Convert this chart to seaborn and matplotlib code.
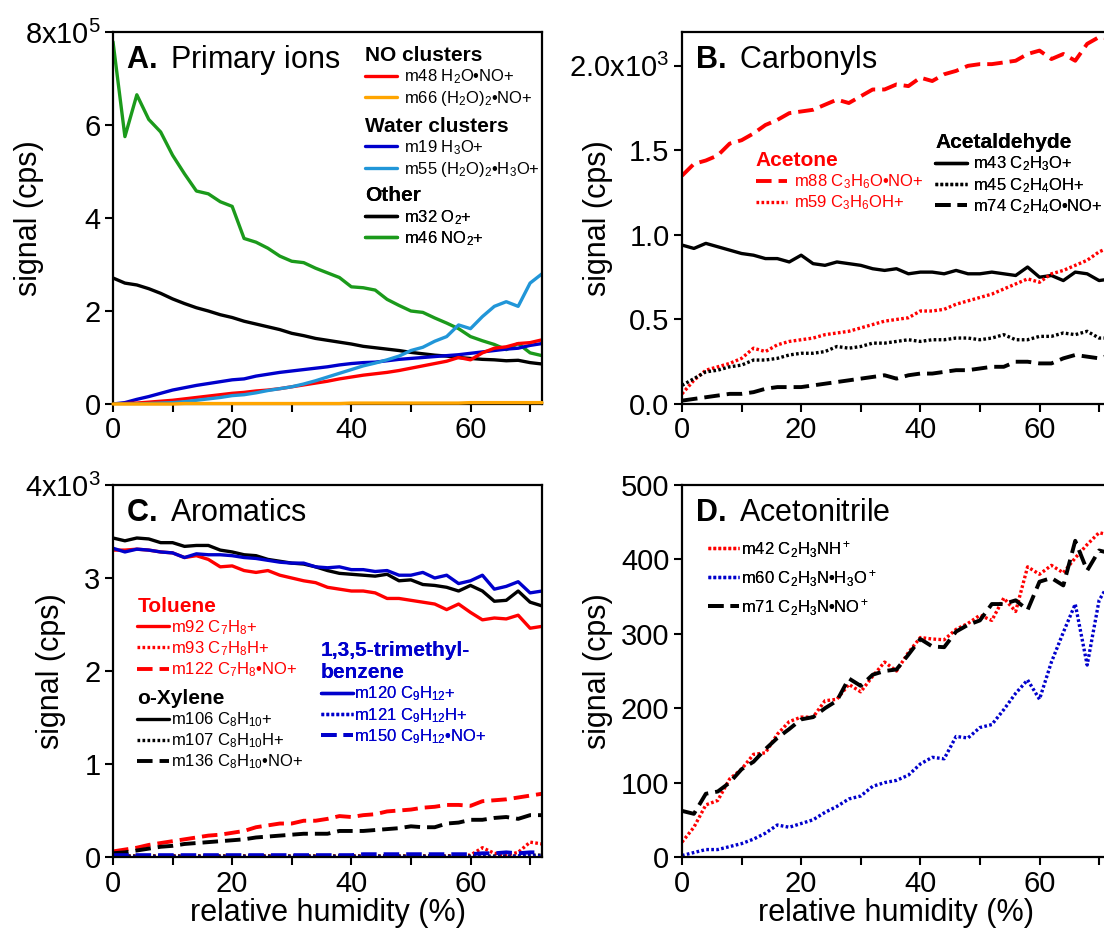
import matplotlib
matplotlib.use("Agg")
import matplotlib.pyplot as plt
import seaborn as sns

# relative humidity grid (%), shared by every panel
rh = list(range(0, 74, 2))

# ── A. Primary ions (signal in units of 1e5 cps) ─────────────────────────────
a_m48 = [0.0, 0.01, 0.02, 0.04, 0.06, 0.08, 0.11, 0.14, 0.17, 0.2,
         0.23, 0.25, 0.28, 0.3, 0.33, 0.37, 0.41, 0.45, 0.49, 0.54,
         0.58, 0.62, 0.65, 0.68, 0.72, 0.77, 0.82, 0.87, 0.92, 1.0,
         0.95, 1.1, 1.2, 1.23, 1.3, 1.32, 1.38]
a_m66 = [0.0, 0.0, 0.0, 0.0, 0.0, 0.0, 0.01, 0.01, 0.01, 0.01,
         0.01, 0.01, 0.01, 0.01, 0.01, 0.01, 0.01, 0.01, 0.01, 0.01,
         0.02, 0.02, 0.02, 0.02, 0.02, 0.02, 0.02, 0.02, 0.02, 0.02,
         0.03, 0.03, 0.03, 0.03, 0.03, 0.03, 0.03]
a_m19 = [0.0, 0.03, 0.1, 0.16, 0.23, 0.3, 0.35, 0.4, 0.44, 0.48,
         0.52, 0.54, 0.6, 0.64, 0.68, 0.71, 0.74, 0.77, 0.8, 0.84,
         0.87, 0.89, 0.9, 0.93, 0.96, 0.98, 1.0, 1.02, 1.04, 1.06,
         1.09, 1.12, 1.15, 1.18, 1.2, 1.26, 1.3]
a_m55 = [0.0, 0.0, 0.0, 0.01, 0.02, 0.03, 0.05, 0.08, 0.11, 0.14,
         0.18, 0.2, 0.24, 0.29, 0.33, 0.37, 0.43, 0.5, 0.58, 0.66,
         0.74, 0.82, 0.88, 0.95, 1.03, 1.15, 1.22, 1.35, 1.45, 1.7,
         1.62, 1.88, 2.1, 2.2, 2.1, 2.6, 2.8]
a_m32 = [2.71, 2.6, 2.56, 2.48, 2.38, 2.26, 2.16, 2.07, 2.0, 1.92,
         1.86, 1.78, 1.72, 1.66, 1.6, 1.52, 1.47, 1.41, 1.37, 1.33,
         1.29, 1.24, 1.21, 1.18, 1.15, 1.11, 1.08, 1.05, 1.03, 1.0,
         0.98, 0.96, 0.95, 0.93, 0.94, 0.89, 0.86]
a_m46 = [7.79, 5.75, 6.65, 6.12, 5.85, 5.35, 4.95, 4.58, 4.52, 4.35,
         4.25, 3.56, 3.48, 3.35, 3.18, 3.07, 3.04, 2.92, 2.82, 2.72,
         2.52, 2.5, 2.45, 2.25, 2.12, 2.0, 1.97, 1.85, 1.74, 1.62,
         1.45, 1.36, 1.28, 1.17, 1.3, 1.1, 1.04]

# ── B. Carbonyls (units of 1e3 cps) ──────────────────────────────────────────
b_m88 = [1.35, 1.42, 1.44, 1.47, 1.54, 1.56, 1.6, 1.65, 1.68, 1.72,
         1.73, 1.74, 1.77, 1.8, 1.78, 1.82, 1.86, 1.86, 1.89, 1.88,
         1.93, 1.91, 1.95, 1.97, 2.0, 2.01, 2.01, 2.02, 2.03, 2.07,
         2.09, 2.04, 2.07, 2.03, 2.13, 2.17, 2.16]
b_m59 = [0.06, 0.14, 0.2, 0.22, 0.24, 0.27, 0.33, 0.31, 0.35, 0.37,
         0.38, 0.39, 0.41, 0.42, 0.43, 0.45, 0.47, 0.49, 0.5, 0.51,
         0.55, 0.55, 0.56, 0.59, 0.61, 0.63, 0.65, 0.68, 0.71, 0.74,
         0.72, 0.77, 0.79, 0.82, 0.85, 0.9, 0.93]
b_m43 = [0.94, 0.92, 0.95, 0.93, 0.91, 0.89, 0.88, 0.86, 0.86, 0.84,
         0.88, 0.83, 0.82, 0.84, 0.83, 0.82, 0.8, 0.79, 0.8, 0.77,
         0.78, 0.78, 0.77, 0.79, 0.77, 0.77, 0.78, 0.77, 0.76, 0.81,
         0.75, 0.76, 0.73, 0.78, 0.77, 0.73, 0.74]
b_m45 = [0.11, 0.15, 0.19, 0.2, 0.22, 0.23, 0.26, 0.26, 0.27, 0.29,
         0.3, 0.3, 0.31, 0.34, 0.33, 0.34, 0.36, 0.36, 0.37, 0.38,
         0.37, 0.38, 0.38, 0.39, 0.39, 0.38, 0.39, 0.41, 0.38, 0.38,
         0.4, 0.4, 0.42, 0.41, 0.43, 0.39, 0.39]
b_m74 = [0.02, 0.03, 0.04, 0.05, 0.06, 0.06, 0.07, 0.09, 0.1, 0.1,
         0.1, 0.11, 0.12, 0.13, 0.14, 0.15, 0.16, 0.17, 0.15, 0.17,
         0.18, 0.18, 0.19, 0.2, 0.2, 0.21, 0.22, 0.22, 0.25, 0.25,
         0.24, 0.24, 0.27, 0.29, 0.28, 0.27, 0.29]

# ── C. Aromatics (units of 1e3 cps) ──────────────────────────────────────────
c_m92 = [3.3, 3.3, 3.31, 3.3, 3.28, 3.27, 3.22, 3.24, 3.2, 3.12,
         3.13, 3.08, 3.06, 3.08, 3.03, 3.0, 2.97, 2.95, 2.9, 2.88,
         2.86, 2.86, 2.84, 2.78, 2.78, 2.76, 2.74, 2.72, 2.66, 2.72,
         2.63, 2.55, 2.57, 2.56, 2.6, 2.46, 2.48]
c_m93 = [0.01, 0.01, 0.01, 0.01, 0.01, 0.01, 0.01, 0.01, 0.01, 0.01,
         0.01, 0.01, 0.01, 0.01, 0.01, 0.01, 0.01, 0.01, 0.01, 0.01,
         0.01, 0.01, 0.01, 0.01, 0.01, 0.01, 0.01, 0.01, 0.01, 0.02,
         0.02, 0.1, 0.04, 0.02, 0.05, 0.16, 0.14]
c_m122 = [0.06, 0.08, 0.1, 0.13, 0.15, 0.17, 0.19, 0.21, 0.23, 0.24,
          0.26, 0.28, 0.32, 0.34, 0.36, 0.36, 0.39, 0.39, 0.41, 0.44,
          0.43, 0.45, 0.46, 0.49, 0.5, 0.51, 0.53, 0.54, 0.56, 0.56,
          0.55, 0.6, 0.61, 0.62, 0.64, 0.66, 0.68]
c_m106 = [3.43, 3.4, 3.43, 3.42, 3.38, 3.38, 3.34, 3.35, 3.35, 3.3,
          3.28, 3.25, 3.24, 3.2, 3.18, 3.16, 3.15, 3.12, 3.08, 3.05,
          3.04, 3.03, 3.02, 3.04, 2.97, 2.98, 2.93, 2.92, 2.9, 2.86,
          2.92, 2.86, 2.75, 2.76, 2.86, 2.74, 2.7]
c_m107 = [0.01, 0.01, 0.01, 0.01, 0.01, 0.01, 0.01, 0.01, 0.01, 0.01,
          0.01, 0.01, 0.01, 0.01, 0.01, 0.01, 0.01, 0.01, 0.01, 0.01,
          0.01, 0.01, 0.01, 0.01, 0.01, 0.01, 0.01, 0.01, 0.01, 0.01,
          0.01, 0.01, 0.01, 0.01, 0.01, 0.02, 0.02]
c_m136 = [0.04, 0.05, 0.07, 0.09, 0.11, 0.12, 0.14, 0.15, 0.16, 0.17,
          0.18, 0.19, 0.21, 0.22, 0.23, 0.24, 0.25, 0.25, 0.25, 0.28,
          0.28, 0.28, 0.29, 0.3, 0.31, 0.33, 0.32, 0.32, 0.36, 0.37,
          0.4, 0.4, 0.42, 0.43, 0.41, 0.45, 0.45]
c_m120 = [3.32, 3.28, 3.31, 3.3, 3.28, 3.27, 3.22, 3.26, 3.25, 3.25,
          3.24, 3.22, 3.21, 3.19, 3.17, 3.16, 3.16, 3.12, 3.11, 3.12,
          3.09, 3.09, 3.07, 3.08, 3.03, 3.03, 3.06, 3.0, 3.03, 2.94,
          2.97, 3.03, 2.88, 2.91, 2.96, 2.84, 2.86]
c_m121 = [0.0, 0.0, 0.0, 0.0, 0.0, 0.0, 0.0, 0.0, 0.0, 0.0,
          0.0, 0.0, 0.0, 0.0, 0.0, 0.0, 0.0, 0.0, 0.0, 0.0,
          0.0, 0.0, 0.0, 0.0, 0.0, 0.0, 0.0, 0.0, 0.0, 0.0,
          0.0, 0.0, 0.0, 0.0, 0.01, 0.01, 0.01]
c_m150 = [0.02, 0.02, 0.02, 0.02, 0.02, 0.02, 0.02, 0.02, 0.02, 0.02,
          0.02, 0.02, 0.02, 0.02, 0.02, 0.02, 0.02, 0.02, 0.02, 0.02,
          0.02, 0.03, 0.03, 0.03, 0.03, 0.03, 0.03, 0.03, 0.03, 0.03,
          0.03, 0.04, 0.04, 0.05, 0.04, 0.05, 0.05]

# ── D. Acetonitrile (cps) ────────────────────────────────────────────────────
d_m42 = [20, 40, 70, 76, 105, 118, 138, 140, 165, 182,
         188, 188, 210, 212, 232, 222, 243, 262, 250, 275,
         295, 293, 292, 306, 314, 325, 318, 348, 330, 390,
         380, 392, 382, 402, 420, 436, 432]
d_m60 = [2, 6, 10, 10, 14, 18, 24, 32, 43, 40,
         45, 50, 60, 68, 78, 82, 95, 100, 103, 110,
         125, 134, 132, 162, 160, 174, 178, 198, 220, 238,
         212, 262, 302, 340, 258, 345, 372]
d_m71 = [62, 58, 85, 88, 100, 118, 128, 145, 160, 172,
         185, 188, 200, 210, 240, 230, 245, 250, 252, 272,
         293, 283, 282, 303, 312, 318, 340, 340, 345, 332,
         370, 375, 365, 425, 385, 412, 408]

# ── style ───────────────────────────────────────────────────────────────────
sns.set_theme(style="ticks")
plt.rcParams["font.family"] = ["Liberation Sans", "DejaVu Sans"]
plt.rcParams["mathtext.fontset"] = "custom"
plt.rcParams["mathtext.rm"] = "Liberation Sans"
plt.rcParams["mathtext.it"] = "Liberation Sans:italic"
plt.rcParams["mathtext.bf"] = "Liberation Sans:bold"
plt.rcParams["mathtext.default"] = "regular"
for key in ["text.color", "axes.labelcolor", "xtick.color", "ytick.color", "axes.edgecolor"]:
    plt.rcParams[key] = "black"

RED = "#ff0000"
ORANGE = "#ffa500"
BLUE = "#0000cc"
LIGHTBLUE = "#2196d8"
GREEN = "#1b9a1b"
BLACK = "#000000"

SOLID = "-"
DOT = (0, (0.8, 0.7))
DASH = (0, (4.0, 1.8))

W, H = 1104, 934
fig = plt.figure(figsize=(W / 100, H / 100), dpi=100)


def panel(left, top, width=429, height=372):
    return fig.add_axes([left / W, 1 - (top + height) / H, width / W, height / H])


def draw(ax, y, color, ls, label, lw=2.4, **kw):
    sns.lineplot(x=rh, y=y, ax=ax, color=color, linestyle=ls, linewidth=lw,
                 label=label, legend=False, **kw)
    return ax.lines[-1]


def style_axes(ax, ylim, yticks, yticklabels, xlabel, ylabel_x):
    ax.set_xlim(0, 72)
    ax.set_ylim(*ylim)
    ax.set_xticks([0, 20, 40, 60])
    ax.set_xticks([10, 30, 50, 70], minor=True)
    ax.set_yticks(yticks)
    ax.set_yticklabels(yticklabels)
    for sp in ax.spines.values():
        sp.set_visible(True)
        sp.set_linewidth(1.6)
        sp.set_color("black")
    ax.tick_params(axis="both", which="both", direction="out", length=6, width=1.5,
                   labelsize=21, pad=3, top=False, right=False)
    ax.set_xlabel("relative humidity (%)" if xlabel else "", fontsize=22, labelpad=0)
    ax.set_ylabel("signal (cps)", fontsize=22)
    ax.yaxis.set_label_coords(ylabel_x, 0.5)


def group_legend(ax, handles, title, color, anchor, pad=0.4, spacing=0.15):
    leg = ax.legend(handles, [h.get_label() for h in handles], title=title,
                    loc="upper left", bbox_to_anchor=anchor, frameon=False,
                    borderpad=0, borderaxespad=0, handlelength=1.9,
                    handletextpad=pad, labelspacing=spacing, alignment="left",
                    prop={"size": 12}, labelcolor=color,
                    title_fontproperties={"size": 15, "weight": "bold"})
    if title:
        leg.get_title().set_color(color)
    ax.add_artist(leg)
    return leg


def panel_title(ax, letter, name):
    ax.text(0.03, 0.925, rf"$\mathbf{{{letter}.}}$ {name}", transform=ax.transAxes,
            fontsize=22, ha="left", va="center")


axA = panel(113, 32)
axB = panel(682, 32)
axC = panel(113, 485)
axD = panel(682, 485)

# A
l46 = draw(axA, a_m46, GREEN, SOLID, r"m46 NO$_2$+")
l32 = draw(axA, a_m32, BLACK, SOLID, r"m32 O$_2$+")
l19 = draw(axA, a_m19, BLUE, SOLID, r"m19 H$_3$O+")
l48 = draw(axA, a_m48, RED, SOLID, r"m48 H$_2$O•NO+")
l55 = draw(axA, a_m55, LIGHTBLUE, SOLID, r"m55 (H$_2$O)$_2$•H$_3$O+")
l66 = draw(axA, a_m66, ORANGE, SOLID, r"m66 (H$_2$O)$_2$•NO+", zorder=3, clip_on=False)
style_axes(axA, (0, 8), [0, 2, 4, 6, 8], ["0", "2", "4", "6", r"8x10$^5$"], False, -0.16)
panel_title(axA, "A", "Primary ions")
group_legend(axA, [l48, l66], "NO clusters", BLACK, (0.588, 0.962))
group_legend(axA, [l19, l55], "Water clusters", BLACK, (0.588, 0.772))
group_legend(axA, [l32, l46], "Other", BLACK, (0.588, 0.585))

# B
l88 = draw(axB, b_m88, RED, DASH, r"m88 C$_3$H$_6$O•NO+", lw=2.8)
l43 = draw(axB, b_m43, BLACK, SOLID, r"m43 C$_2$H$_3$O+")
l59 = draw(axB, b_m59, RED, DOT, r"m59 C$_3$H$_6$OH+")
l45 = draw(axB, b_m45, BLACK, DOT, r"m45 C$_2$H$_4$OH+")
l74 = draw(axB, b_m74, BLACK, DASH, r"m74 C$_2$H$_4$O•NO+", lw=2.8)
style_axes(axB, (0, 2.2), [0, 0.5, 1.0, 1.5, 2.0],
           ["0.0", "0.5", "1.0", "1.5", r"2.0x10$^3$"], False, -0.16)
panel_title(axB, "B", "Carbonyls")
group_legend(axB, [l88, l59], "Acetone", RED, (0.172, 0.68))
group_legend(axB, [l43, l45, l74], "Acetaldehyde", BLACK, (0.59, 0.728))

# C
l92 = draw(axC, c_m92, RED, SOLID, r"m92 C$_7$H$_8$+")
l106 = draw(axC, c_m106, BLACK, SOLID, r"m106 C$_8$H$_{10}$+")
l120 = draw(axC, c_m120, BLUE, SOLID, r"m120 C$_9$H$_{12}$+")
l122 = draw(axC, c_m122, RED, DASH, r"m122 C$_7$H$_8$•NO+", lw=2.8)
l136 = draw(axC, c_m136, BLACK, DASH, r"m136 C$_8$H$_{10}$•NO+", lw=2.8)
l93 = draw(axC, c_m93, RED, DOT, r"m93 C$_7$H$_8$H+")
l107 = draw(axC, c_m107, BLACK, DOT, r"m107 C$_8$H$_{10}$H+")
l150 = draw(axC, c_m150, BLUE, DASH, r"m150 C$_9$H$_{12}$•NO+", lw=2.8)
l121 = draw(axC, c_m121, BLUE, DOT, r"m121 C$_9$H$_{12}$H+")
style_axes(axC, (0, 4), [0, 1, 2, 3, 4], ["0", "1", "2", "3", r"4x10$^3$"], True, -0.11)
panel_title(axC, "C", "Aromatics")
group_legend(axC, [l92, l93, l122], "Toluene", RED, (0.057, 0.7), pad=0.1)
group_legend(axC, [l106, l107, l136], "o-Xylene", BLACK, (0.057, 0.452), pad=0.1)
group_legend(axC, [l120, l121, l150], "1,3,5-trimethyl-\nbenzene", BLUE, (0.485, 0.58), pad=0.1)

# D
l42 = draw(axD, d_m42, RED, DOT, r"m42 C$_2$H$_3$NH$^+$")
l60 = draw(axD, d_m60, BLUE, DOT, r"m60 C$_2$H$_3$N•H$_3$O$^+$")
l71 = draw(axD, d_m71, BLACK, DASH, r"m71 C$_2$H$_3$N•NO$^+$", lw=2.8)
style_axes(axD, (0, 500), [0, 100, 200, 300, 400, 500],
           ["0", "100", "200", "300", "400", "500"], True, -0.16)
panel_title(axD, "D", "Acetonitrile")
group_legend(axD, [l42, l60, l71], None, BLACK, (0.06, 0.855), pad=0.1, spacing=0.5)

fig.savefig("out.png", dpi=100)
